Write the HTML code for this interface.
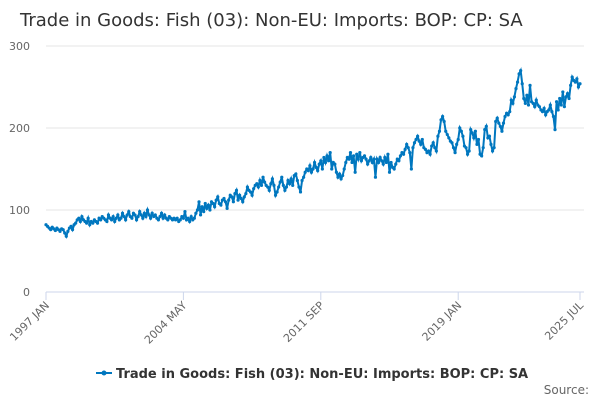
<!DOCTYPE html>
<html><head><meta charset="utf-8"><style>
body{margin:0;background:#fff;font-family:"DejaVu Sans",sans-serif}
</style></head><body>
<svg width="600" height="400" xmlns="http://www.w3.org/2000/svg" font-family="DejaVu Sans, sans-serif">
<text x="20" y="26" font-size="18" fill="#333">Trade in Goods: Fish (03): Non-EU: Imports: BOP: CP: SA</text>
<g id="grid"></g><g id="xaxis"></g><g id="series"></g>
<g>
<line x1="96" y1="373" x2="112" y2="373" stroke="#0077bf" stroke-width="2"/>
<circle cx="104" cy="373" r="2.5" fill="#0077bf"/>
<text x="116" y="378" font-size="13" font-weight="bold" fill="#333">Trade in Goods: Fish (03): Non-EU: Imports: BOP: CP: SA</text>
</g>
<text x="589" y="394" font-size="12" fill="#666" text-anchor="end">Source:</text>
</svg>
<script>
const yTicks=[0,100,200,300];
const xTickLabels=["1997 JAN","2004 MAY","2011 SEP","2019 JAN","2025 JUL"];
const xTickIndex=[0,88,176,264,342];
const values=[
82,80,78,76,79,77,75,78,76,74,77,76,
72,68,74,78,80,76,82,84,88,90,86,92,
88,86,84,90,82,86,84,88,86,84,90,88,
92,90,88,86,94,90,88,92,86,90,94,88,
90,96,92,88,94,98,92,90,96,94,88,92,
98,94,90,96,92,100,94,90,96,92,94,90,
88,92,96,90,94,90,88,92,90,88,90,88,
90,86,88,92,90,98,88,90,86,92,88,90,
96,100,110,94,104,98,108,102,106,100,110,108,
104,112,116,108,106,112,114,110,102,112,118,116,
110,120,124,112,118,114,110,116,120,128,124,122,
118,126,130,132,128,136,130,140,134,130,128,124,
132,138,130,118,122,128,134,140,130,124,128,136,
132,138,130,142,144,136,128,122,136,140,146,150,
148,154,146,150,158,152,148,156,160,150,164,158,
166,160,170,150,158,156,146,140,144,138,142,150,
158,164,162,170,158,166,146,168,162,170,160,164,
166,162,156,160,164,158,162,140,162,158,164,160,
156,164,158,168,146,158,152,150,156,162,160,166,
170,168,174,180,176,170,150,176,182,186,190,184,
180,186,176,174,170,172,168,178,182,176,172,190,
196,210,214,208,196,192,188,184,182,176,170,180,
186,200,196,190,178,176,168,172,198,194,188,196,
180,186,168,166,176,198,202,188,190,180,172,176,
208,212,206,202,196,206,214,218,216,220,234,230,
238,248,256,266,270,254,236,230,240,228,252,232,
230,226,234,228,226,222,220,224,216,220,222,228,
220,214,198,232,222,236,228,244,226,238,242,236,
252,262,258,256,260,250,254];
const NS="http://www.w3.org/2000/svg";
const x0=46,x1=580,yb=292,yt=46;
const xs=i=>x0+i*(x1-x0)/(values.length-1);
const ys=v=>yb-v*(yb-yt)/300;
const grid=document.getElementById('grid');
yTicks.forEach(t=>{
 const l=document.createElementNS(NS,'line');
 
 
 l.setAttribute('x1',x0);l.setAttribute('x2',584);l.setAttribute('y1',ys(t));l.setAttribute('y2',ys(t));
 l.setAttribute('stroke',t===0?'#ccd6eb':'#e6e6e6');grid.appendChild(l);
 const tx=document.createElementNS(NS,'text');
 
 
 tx.setAttribute('x',30);tx.setAttribute('y',ys(t)+4);tx.setAttribute('text-anchor','end');
 tx.setAttribute('font-size','11');tx.setAttribute('fill','#666');tx.textContent=t;grid.appendChild(tx);
});
const xa=document.getElementById('xaxis');
xTickIndex.forEach((idx,k)=>{
 const x=xs(idx);
 const l=document.createElementNS(NS,'line');
 
 
 l.setAttribute('x1',x);l.setAttribute('x2',x);l.setAttribute('y1',yb);l.setAttribute('y2',yb+8);
 l.setAttribute('stroke','#ccd6eb');xa.appendChild(l);
 const tx=document.createElementNS(NS,'text');
 
 
 tx.setAttribute('x',x+4);tx.setAttribute('y',yb+14);tx.setAttribute('text-anchor','end');
 tx.setAttribute('transform',`rotate(-45 ${x+4} ${yb+14})`);
 tx.setAttribute('font-size','11');tx.setAttribute('fill','#666');tx.textContent=xTickLabels[k];xa.appendChild(tx);
});
const s=document.getElementById('series');
const p=document.createElementNS(NS,'path');


p.setAttribute('d',values.map((v,i)=>(i?'L':'M')+xs(i).toFixed(2)+' '+ys(v).toFixed(2)).join(''));
p.setAttribute('fill','none');p.setAttribute('stroke','#0077bf');p.setAttribute('stroke-width','2');
s.appendChild(p);
values.forEach((v,i)=>{
 const c=document.createElementNS(NS,'circle');
 
 
 c.setAttribute('cx',xs(i));c.setAttribute('cy',ys(v));c.setAttribute('r',1.6);c.setAttribute('fill','#0077bf');
 s.appendChild(c);
});
</script>
</body></html>
